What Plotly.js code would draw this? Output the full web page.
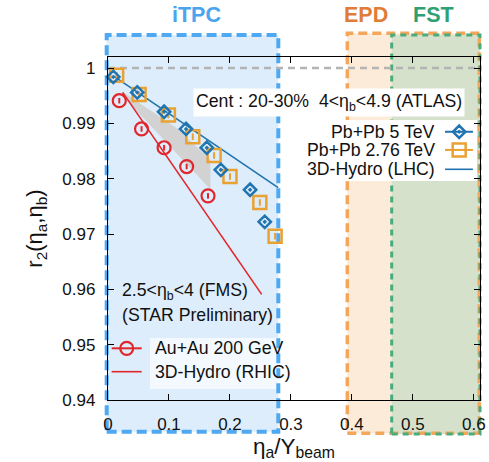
<!DOCTYPE html>
<html><head><meta charset="utf-8">
<script src="https://cdn.plot.ly/plotly-3.0.1.min.js"></script>
<style>html,body{margin:0;padding:0;background:#fff;}#chart{width:489px;height:462px;}</style>
</head><body><div id="chart"></div>
<script>
// ---- data ----
const auauX = [0.0185, 0.055, 0.092, 0.129, 0.164];
const auauY = [0.9941, 0.9890, 0.9856, 0.9822, 0.9769];
const pb5X = [0.0087, 0.048, 0.092, 0.128, 0.162, 0.185, 0.233, 0.257];
const pb5Y = [0.9984, 0.9956, 0.9921, 0.9890, 0.9856, 0.9816, 0.9780, 0.9722];
const pb276X = [0.0142, 0.051, 0.099, 0.139, 0.174, 0.200, 0.249, 0.274];
const pb276Y = [0.9987, 0.9952, 0.9915, 0.9876, 0.9842, 0.9804, 0.9757, 0.9696];
const lhcHydroX = [0.0087, 0.279];
const lhcHydroY = [0.9986, 0.9784];
const rhicHydroX = [0.024, 0.252];
const rhicHydroY = [0.9956, 0.9591];
const bandX = [0.024, 0.113, 0.168];
const bandUpper = [0.9957, 0.9891, 0.9834];
const bandLower = [0.9950, 0.9845, 0.9781];
const xTicks = [0, 0.1, 0.2, 0.3, 0.4, 0.5, 0.6];
const yTicks = [0.94, 0.95, 0.96, 0.97, 0.98, 0.99, 1];

const F = '"Liberation Sans", Arial, Helvetica, sans-serif';
const RED = '#e2262b', BLUE = '#2074b0', ORANGE = '#e9a132';
const TS = 17.7;

const traces = [
  {x: bandX.concat(bandX.slice().reverse()), y: bandUpper.concat(bandLower.slice().reverse()),
   mode:'lines', fill:'toself', fillcolor:'#d2d2d2', line:{width:0}, hoverinfo:'skip'},
  {x: rhicHydroX, y: rhicHydroY, mode:'lines', line:{color:RED, width:1.6}},
  {x: lhcHydroX, y: lhcHydroY, mode:'lines', line:{color:BLUE, width:1.6}},
  {x: pb276X, y: pb276Y, mode:'markers',
   error_y:{type:'constant', value:0.0006, width:0, thickness:2, color:ORANGE},
   marker:{symbol:'square-open', size:13, color:ORANGE, line:{width:2.5, color:ORANGE}}},
  {x: pb5X, y: pb5Y, mode:'markers',
   marker:{symbol:'diamond-open-dot', size:9.5, color:BLUE, line:{width:2.5, color:BLUE}}},
  {x: auauX, y: auauY, mode:'markers',
   error_y:{type:'constant', value:0.0005, width:0, thickness:2, color:RED},
   marker:{symbol:'circle-open', size:13, color:RED, line:{width:2.2, color:RED}}},
  // legend keys (overlay axes in plot-fraction units)
  {x:[0.906,0.981], y:[0.782,0.782], xaxis:'x2', yaxis:'y2', mode:'lines', line:{color:BLUE,width:2}},
  {x:[0.944], y:[0.782], xaxis:'x2', yaxis:'y2', mode:'markers',
   marker:{symbol:'diamond-open-dot', size:9.5, color:BLUE, line:{width:2.5,color:BLUE}}},
  {x:[0.906,0.981], y:[0.729,0.729], xaxis:'x2', yaxis:'y2', mode:'lines', line:{color:ORANGE,width:2}},
  {x:[0.944], y:[0.729], xaxis:'x2', yaxis:'y2', mode:'markers',
   marker:{symbol:'square-open', size:13, color:ORANGE, line:{width:2.5,color:ORANGE}}},
  {x:[0.906,0.981], y:[0.6726,0.6726], xaxis:'x2', yaxis:'y2', mode:'lines', line:{color:BLUE,width:1.6}},
  {x:[0.0099,0.0906], y:[0.1507,0.1507], xaxis:'x2', yaxis:'y2', mode:'lines', line:{color:RED,width:2}},
  {x:[0.0503], y:[0.1507], xaxis:'x2', yaxis:'y2', mode:'markers',
   marker:{symbol:'circle-open', size:13, color:RED, line:{width:2.2,color:RED}}},
  {x:[0.0099,0.0906], y:[0.0825,0.0825], xaxis:'x2', yaxis:'y2', mode:'lines', line:{color:RED,width:1.6}}
];
traces.forEach(t => { t.showlegend = false; t.cliponaxis = false; });

const box = (x0,x1,y0,y1,fill,line,w,dash) => ({type:'rect', xref:'paper', yref:'paper',
  x0, x1, y0, y1, layer:'below', fillcolor:fill, line:{color:line, width:w, dash:dash}});

const shapes = [
  box(-0.0035,0.4578,-0.0924,1.0641,'#ddedfb','rgba(0,0,0,0)',0),
  box(0.6433,0.9981,-0.0971,1.0691,'#fdebd9','rgba(0,0,0,0)',0),
  box(0.7626,1.0,-0.0991,1.0641,'#d5e1cb','rgba(0,0,0,0)',0),
  box(0.1129,0.489,0.032,0.1808,'rgba(255,255,255,0.65)','rgba(0,0,0,0)',0),
  box(-0.0035,0.4578,-0.0924,1.0641,'rgba(0,0,0,0)','#4ea8f2',4,'10px,5px'),
  box(0.6433,0.9981,-0.0971,1.0691,'rgba(0,0,0,0)','#f4a65a',3.5,'9px,5px'),
  box(0.7626,1.0,-0.0991,1.0641,'rgba(0,0,0,0)','#4aac7d',3,'6px,5px'),
  box(0.5108,0.992,0.6385,0.8163,'#ffffff','rgba(0,0,0,0)',0),
  {type:'line', xref:'paper', yref:'y', x0:0, x1:1, y0:1, y1:1, layer:'below',
   line:{color:'#b4b4b4', width:2.5, dash:'7px,5px'}}
];

const ann = (text,x,y,opt) => Object.assign({text, x, y, xref:'paper', yref:'paper',
  showarrow:false, xanchor:'left', yanchor:'middle', font:{family:F, size:TS, color:'#111'}}, opt||{});

const annotations = [
  ann('<b>iTPC</b>',0.2392,1.1224,{xanchor:'center', font:{family:F,size:21.5,color:'#4ba4ef'}}),
  ann('<b>EPD</b>',0.6935,1.1224,{xanchor:'center', font:{family:F,size:21.5,color:'#e07b38'}}),
  ann('<b>FST</b>',0.8763,1.1224,{xanchor:'center', font:{family:F,size:21.5,color:'#2ea174'}}),
  ann('Cent : 20-30%  4&lt;η<sub>b</sub>&lt;4.9 (ATLAS)',0.2285,0.866,{bgcolor:'#ffffff', borderpad:2}),
  ann('Pb+Pb 5 TeV',0.8844,0.782,{xanchor:'right'}),
  ann('Pb+Pb 2.76 TeV',0.8844,0.729,{xanchor:'right'}),
  ann('3D-Hydro (LHC)',0.8844,0.6726,{xanchor:'right'}),
  ann('2.5&lt;η<sub>b</sub>&lt;4 (FMS)',0.0323,0.3157),
  ann('(STAR Preliminary)',0.0323,0.2478),
  ann('Au+Au 200 GeV',0.121,0.1507),
  ann('3D-Hydro (RHIC)',0.121,0.0825)
];

const axisCommon = {ticks:'inside', ticklen:6, tickwidth:1, tickcolor:'#000', showline:true,
  linecolor:'#000', linewidth:1.2, mirror:'ticks', showgrid:false, zeroline:false,
  tickfont:{family:F, size:17, color:'#111'}};

const layout = {
  width:489, height:462, margin:{l:108, r:9, t:57, b:62},
  paper_bgcolor:'#ffffff', plot_bgcolor:'rgba(0,0,0,0)',
  font:{family:F, color:'#111'},
  xaxis: Object.assign({}, axisCommon, {range:[0,0.61], tickvals:xTicks, ticktext:xTicks.map(String),
    ticklabelstandoff:8,
    title:{text:'η<sub>a</sub>/Y<sub>beam</sub>', font:{family:F,size:22.5,color:'#111'}, standoff:3}}),
  yaxis: Object.assign({}, axisCommon, {range:[0.94,1.002], tickvals:yTicks, ticktext:yTicks.map(String),
    ticklabelstandoff:8,
    title:{text:'r<sub>2</sub>(η<sub>a</sub>,η<sub>b</sub>)', font:{family:F,size:22,color:'#111'}, standoff:13}}),
  xaxis2:{overlaying:'x', range:[0,1], visible:false, fixedrange:true},
  yaxis2:{overlaying:'y', range:[0,1], visible:false, fixedrange:true},
  shapes, annotations
};

Plotly.newPlot('chart', traces, layout, {displayModeBar:false, staticPlot:true});
</script></body></html>
